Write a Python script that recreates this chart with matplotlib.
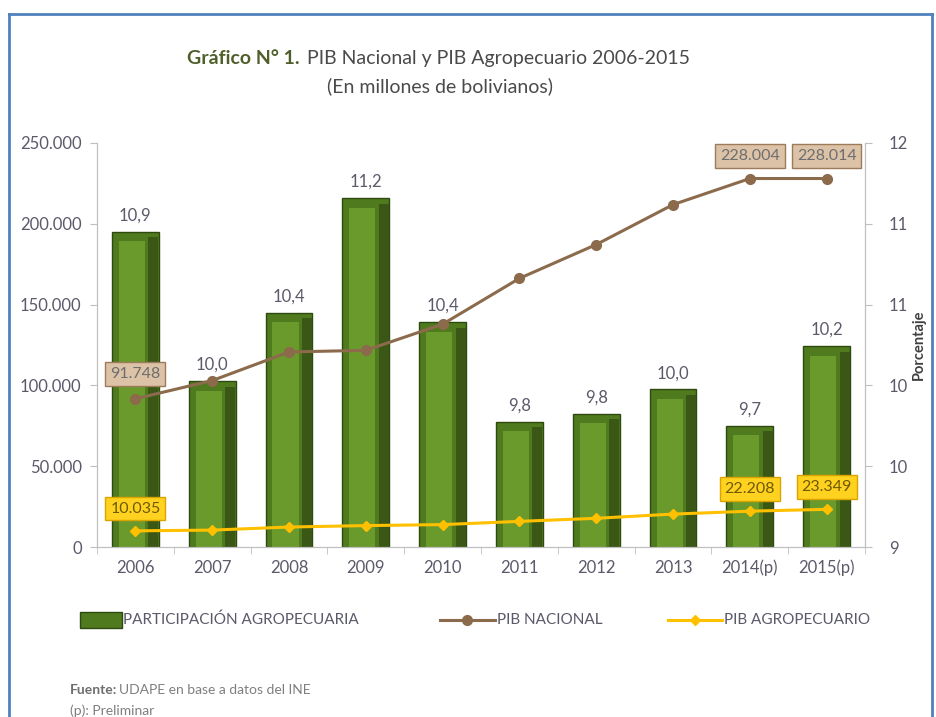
import numpy as np
import matplotlib
matplotlib.use('Agg')
import matplotlib.pyplot as plt
from matplotlib.lines import Line2D
from matplotlib.patches import Rectangle
from matplotlib.ticker import FuncFormatter

plt.rcParams['font.family'] = ['Lato', 'DejaVu Sans']

# === Data ===
years = ["2006", "2007", "2008", "2009", "2010", "2011", "2012", "2013", "2014(p)", "2015(p)"]
# bar heights as drawn against the right axis (Porcentaje)
participacion = [11.34, 10.23, 10.74, 11.59, 10.67, 9.93, 9.99, 10.17, 9.90, 10.49]
participacion_labels = ["10,9", "10,0", "10,4", "11,2", "10,4", "9,8", "9,8", "10,0", "9,7", "10,2"]
pib_nacional = [91748, 103009, 120694, 121727, 137876, 166232, 187154, 211856, 228004, 228014]
pib_agro = [10035, 10500, 12400, 13300, 13900, 15900, 17800, 20400, 22208, 23349]
labeled_points = [0, 8, 9]   # points with boxed value labels

TXT = '#5a5a6a'
x = np.arange(len(years))

fig = plt.figure(figsize=(9.37, 7.17), dpi=100)
ax = fig.add_axes([0.1035, 0.237, 0.8197, 0.5636])
ax2 = ax.twinx()

# --- bars on the right axis, faked bevel ---
base = 9
ax2.bar(x, np.array(participacion) - base, bottom=base, width=0.61,
        color='#4f7a1e', edgecolor='#2f4a10', linewidth=1.0, zorder=1)
ax2.bar(x - 0.045, np.array(participacion) - base - 0.07, bottom=base, width=0.34,
        color='#6b9a2c', linewidth=0, zorder=2)
ax2.bar(x + 0.235, np.array(participacion) - base - 0.04, bottom=base, width=0.13,
        color='#3a5716', linewidth=0, zorder=2)
for xi, v, lab in zip(x, participacion, participacion_labels):
    ax2.annotate(lab, (xi, v), xytext=(0, 6), textcoords='offset points',
                 ha='center', va='bottom', fontsize=12, color=TXT)

ax2.set_ylim(9, 12)
ax2.set_yticks(np.linspace(9, 12, 6))
ax2.set_yticklabels(["9", "10", "10", "11", "11", "12"])
ax2.set_ylabel("Porcentaje", fontsize=10.5, color='#404040', fontweight='bold', labelpad=3)

# --- lines on the left axis, drawn on top of the bars ---
ax.set_zorder(ax2.get_zorder() + 1)
ax.patch.set_visible(False)
ax.plot(x, pib_nacional, color='#8c6a4c', linewidth=2.2, marker='o', markersize=7, zorder=3)
ax.plot(x, pib_agro, color='#ffc000', linewidth=2.2, marker='D', markersize=5, zorder=3)

for i in labeled_points:
    ax.annotate(f"{pib_nacional[i]:,}".replace(",", "."), (x[i], pib_nacional[i]),
                xytext=(0, 11 if i else 13), textcoords='offset points', ha='center', va='bottom',
                fontsize=11.5, color='#6e6e6e',
                bbox=dict(boxstyle='square,pad=0.3', fc='#dcc3a8', ec='#9c7a5a', lw=1))
    ax.annotate(f"{pib_agro[i]:,}".replace(",", "."), (x[i], pib_agro[i]),
                xytext=(0, 11), textcoords='offset points', ha='center', va='bottom',
                fontsize=11.5, color='#6e5a00',
                bbox=dict(boxstyle='square,pad=0.3', fc='#ffd21f', ec='#d9a400', lw=1))

ax.set_xlim(-0.5, len(years) - 0.5)
ax.set_ylim(0, 250000)
ax.set_yticks(np.arange(0, 250001, 50000))
ax.yaxis.set_major_formatter(FuncFormatter(lambda v, p: f"{int(v):,}".replace(",", ".")))
ax.set_xticks(x)
ax.set_xticklabels(years)
ax.set_xticks(np.arange(-0.5, len(years)), minor=True)
ax.tick_params(axis='x', which='major', length=0, pad=9)
ax.tick_params(axis='x', which='minor', length=5, color='#bfbfbf')

for a in (ax, ax2):
    for s in a.spines.values():
        s.set_color('#bfbfbf')
    a.spines['top'].set_visible(False)
    a.tick_params(colors='#bfbfbf', labelcolor=TXT, labelsize=12)
ax.tick_params(axis='y', length=5, pad=6)
ax2.tick_params(axis='y', length=5, pad=12)
ax2.tick_params(axis='x', length=0)

# --- title ---
fig.text(187 / 937, 0.919, "Gráfico N° 1.", ha='left', va='center', fontsize=14,
         fontweight='bold', color='#4f5e2a')
fig.text(307 / 937, 0.919, "PIB Nacional y PIB Agropecuario 2006-2015", ha='left', va='center',
         fontsize=14, color='#4a4a4a')
fig.text(440 / 937, 0.880, "(En millones de bolivianos)", ha='center', va='center',
         fontsize=14, color='#4a4a4a')

# --- legend (manual, spread across the width) ---
ly = 1 - 620 / 717
fig.add_artist(Rectangle((80 / 937, ly - 0.011), 42 / 937, 0.022, transform=fig.transFigure,
                         fc='#4f7a1e', ec='#2f4a10', lw=1))
fig.text(123 / 937, ly, "PARTICIPACIÓN AGROPECUARIA", va='center', fontsize=11, color=TXT)
fig.add_artist(Line2D([440 / 937, 495 / 937], [ly, ly], color='#8c6a4c', lw=2.2))
fig.add_artist(Line2D([467 / 937], [ly], color='#8c6a4c', marker='o', markersize=7))
fig.text(497 / 937, ly, "PIB NACIONAL", va='center', fontsize=11, color=TXT)
fig.add_artist(Line2D([668 / 937, 722 / 937], [ly, ly], color='#ffc000', lw=2.2))
fig.add_artist(Line2D([695 / 937], [ly], color='#ffc000', marker='D', markersize=5))
fig.text(724 / 937, ly, "PIB AGROPECUARIO", va='center', fontsize=11, color=TXT)

# --- source note ---
fig.text(70 / 937, 1 - 690 / 717, "Fuente:", va='center', fontsize=10, fontweight='bold', color='#6e6e6e')
fig.text(119 / 937, 1 - 690 / 717, "UDAPE en base a datos del INE", va='center', fontsize=10, color='#7f7f7f')
fig.text(70 / 937, 1 - 711 / 717, "(p): Preliminar", va='center', fontsize=10, color='#7f7f7f')

# --- blue frame ---
ftop = 1 - 14 / 717
fig.add_artist(Line2D([9 / 937, 932 / 937], [ftop, ftop], color='#4f81bd', lw=2))
fig.add_artist(Line2D([9 / 937, 9 / 937], [0, ftop], color='#4f81bd', lw=2))
fig.add_artist(Line2D([932 / 937, 932 / 937], [0, ftop], color='#4f81bd', lw=2))

fig.savefig("out.png", dpi=100)
plt.close(fig)
